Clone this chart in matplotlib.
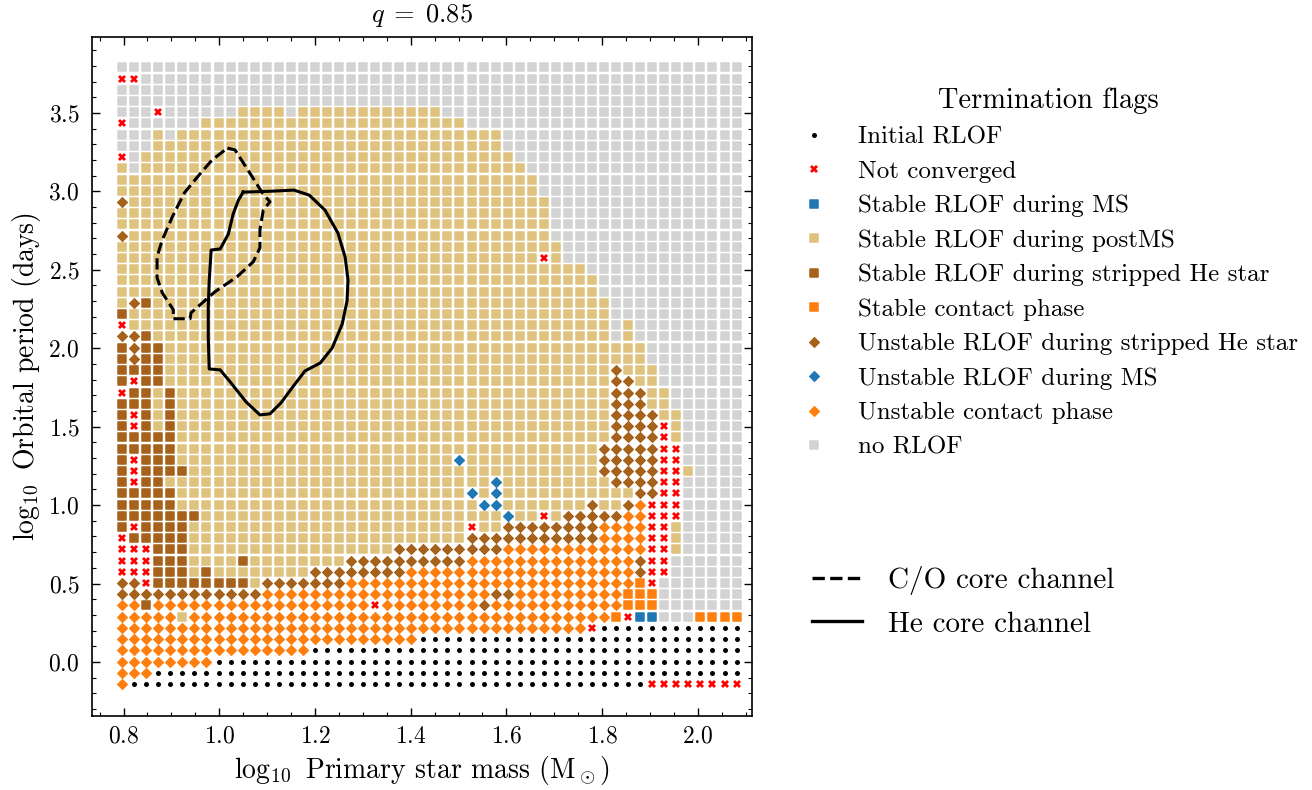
import numpy as np
import matplotlib
matplotlib.use('Agg')
import matplotlib.pyplot as plt
from matplotlib.markers import MarkerStyle
from matplotlib.lines import Line2D
from matplotlib.ticker import MultipleLocator

plt.rcParams['font.family'] = 'serif'
plt.rcParams['font.serif'] = ['cmr10']
plt.rcParams['mathtext.fontset'] = 'cm'
plt.rcParams['axes.formatter.use_mathtext'] = True

# grid of the binary models (log10 M1 columns, log10 P rows from top)
log_mass = np.round(np.linspace(0.797, 2.081, 52), 4)
log_period = np.round(np.linspace(3.79, -0.14, 56), 4)

# termination flag per cell, run-length coded, one string per period row (top first)
# g no RLOF, t stable postMS, h stable stripped He, H unstable stripped He,
# b stable MS, B unstable MS, o stable contact, O unstable contact,
# x not converged, . initial RLOF
flag_rows = [
    "52g", "2x 50g", "52g", "52g",
    "3g 1x 6g 4t 1g 12t 25g",
    "1x 6g 22t 23g",
    "3g 1t 1g 27t 20g",
    "3g 29t 20g",
    "1x 1g 31t 19g",
    "1t 1g 32t 18g",
    "35t 17g", "35t 17g",
    "1H 35t 16g",
    "36t 16g", "36t 16g",
    "1H 35t 16g",
    "37t 15g",
    "35t 1x 1t 15g",
    "39t 13g",
    "40t 12g", "40t 12g",
    "1t 1H 1h 38t 11g",
    "1h 40t 11g",
    "1x 40t 1g 1t 9g",
    "2H 1h 38t 1g 1t 9g",
    "1h 1H 2h 40t 8g",
    "1h 1H 2h 40t 8g",
    "4h 37t 1H 3t 7g",
    "1h 1x 2h 37t 2H 2t 7g",
    "1x 2h 1t 1h 36t 3H 2t 6g",
    "3h 1t 1h 36t 3H 2t 6g",
    "1h 1x 1h 1t 1h 36t 4H 2t 5g",
    "1h 1x 1h 1t 1h 36t 4H 1x 1t 5g",
    "5h 36t 4H 1x 1t 5g",
    "5h 35t 5H 2x 5g",
    "1h 1x 3h 23t 1B 11t 5H 2x 5g",
    "1h 1x 4h 34t 5H 2x 1t 4g",
    "1h 1x 2h 27t 1B 9t 4H 2x 5g",
    "5h 24t 1B 1t 1B 11t 2H 2x 5g",
    "5h 25t 2B 7t 1H 2t 1H 1O 3x 5g",
    "7h 25t 1B 2t 1x 1t 5H 2O 3x 5g",
    "1h 1x 4h 23t 1x 2t 8H 4O 2x 1t 5g",
    "1x 5h 23t 11H 4O 2x 1t 5g",
    "3x 3h 17t 9H 12O 2x 1t 5g",
    "3x 3h 4t 1h 8t 10H 14O 1H 2x 6g",
    "3x 3h 1t 1h 8t 8H 19O 1H 2x 6g",
    "2H 1x 8h 1t 7H 24O 1o 1x 7g",
    "12H 19O 2H 9O 3o 7g",
    "2O 1h 18O 1x 8O 1H 11O 3o 7g",
    "5O 1t 35O 1o 1x 2b 3g 4o",
    "39O 1x 12.",
    "25O 27.",
    "16O 36.",
    "8O 44.",
    "3O 49.",
    "1O 43. 8x",
]

# C/O core channel contour (log10 M1, log10 P)
co_mass = [1.017, 1.033, 1.069, 1.090, 1.106, 1.092, 1.085, 1.085, 1.071, 1.037,
           0.991, 0.941, 0.939, 0.904, 0.904, 0.881, 0.870, 0.870, 0.881, 0.902,
           0.927, 0.958, 0.985, 1.017]
co_period = [3.276, 3.264, 3.092, 2.990, 2.933, 2.882, 2.755, 2.640, 2.551, 2.455,
             2.360, 2.226, 2.188, 2.188, 2.245, 2.353, 2.449, 2.583, 2.691, 2.838,
             2.990, 3.105, 3.200, 3.276]

# He core channel contour
he_mass = [1.050, 1.110, 1.156, 1.188, 1.221, 1.248, 1.263, 1.269, 1.267, 1.257,
           1.236, 1.211, 1.179, 1.152, 1.129, 1.106, 1.085, 1.056, 1.021, 1.002,
           0.979, 0.977, 0.977, 0.979, 0.983, 1.002, 1.019, 1.029, 1.040, 1.050]
he_period = [2.995, 3.001, 3.008, 2.976, 2.880, 2.734, 2.581, 2.435, 2.301, 2.155,
             2.002, 1.906, 1.855, 1.747, 1.652, 1.582, 1.575, 1.658, 1.792, 1.862,
             1.868, 2.072, 2.263, 2.429, 2.626, 2.633, 2.728, 2.855, 2.944, 2.995]

flag_labels = ['Initial RLOF', 'Not converged', 'Stable RLOF during MS',
               'Stable RLOF during postMS', 'Stable RLOF during stripped He star',
               'Stable contact phase', 'Unstable RLOF during stripped He star',
               'Unstable RLOF during MS', 'Unstable contact phase', 'no RLOF']
flag_codes = ['.', 'x', 'b', 't', 'h', 'o', 'H', 'B', 'O', 'g']

sq = MarkerStyle('s', joinstyle='round')
dm = MarkerStyle('D', joinstyle='round')
styles = {
    '.': dict(marker='o', color='black', ms=3.6, mew=0),
    'x': dict(marker='X', color='red', ms=5.4, mew=0),
    'b': dict(marker=sq, color='#1f77b4', ms=5.9, mew=1.1),
    't': dict(marker=sq, color='#dfc27d', ms=5.9, mew=1.1),
    'h': dict(marker=sq, color='#a6611a', ms=5.9, mew=1.1),
    'o': dict(marker=sq, color='#ff7f0e', ms=5.9, mew=1.1),
    'H': dict(marker=dm, color='#a6611a', ms=5.0, mew=0.8),
    'B': dict(marker=dm, color='#1f77b4', ms=5.0, mew=0.8),
    'O': dict(marker=dm, color='#ff7f0e', ms=5.0, mew=0.8),
    'g': dict(marker=sq, color='#d3d3d3', ms=5.9, mew=1.1),
}


def decode(row):
    out = []
    for tok in row.split():
        out += [tok[-1]] * int(tok[:-1])
    return out


flags = np.array([decode(r) for r in flag_rows])
mm, pp = np.meshgrid(log_mass, log_period)

fig = plt.figure(figsize=(13.12, 7.9), dpi=100)
ax = fig.add_axes([0.0701, 0.0935, 0.5030, 0.8595])

for code in flag_codes:
    sel = flags == code
    st = styles[code]
    ax.plot(mm[sel], pp[sel], linestyle='none', marker=st['marker'], ms=st['ms'],
            mfc=st['color'], mec=st['color'], mew=st['mew'], zorder=2)

ax.plot(co_mass, co_period, color='black', lw=2.2, ls='--', zorder=3)
ax.plot(he_mass, he_period, color='black', lw=2.2, ls='-', zorder=3)

ax.set_xlim(0.734, 2.113)
ax.set_ylim(-0.345, 3.983)
ax.xaxis.set_major_locator(MultipleLocator(0.2))
ax.xaxis.set_minor_locator(MultipleLocator(0.05))
ax.yaxis.set_major_locator(MultipleLocator(0.5))
ax.yaxis.set_minor_locator(MultipleLocator(0.1))
ax.tick_params(which='both', direction='in', top=True, right=True, labelsize=17)
ax.tick_params(which='major', length=6, width=1.0)
ax.tick_params(which='minor', length=3, width=0.8)
ax.tick_params(axis='y', which='major', pad=9)
ax.tick_params(axis='x', which='major', pad=7)
for sp in ax.spines.values():
    sp.set_linewidth(1.2)

ax.set_xlabel(r'$\log_{10}$ Primary star mass ($\mathrm{M}_\odot$)', fontsize=20)
ax.set_ylabel(r'$\log_{10}$ Orbital period (days)', fontsize=20)
ax.set_title(r'$q \;=\; 0.85$', fontsize=19, pad=11)

handles = []
for code, lab in zip(flag_codes, flag_labels):
    st = styles[code]
    handles.append(Line2D([], [], linestyle='none', marker=st['marker'], ms=st['ms'],
                          mfc=st['color'], mec=st['color'], mew=st['mew'], label=lab))
fig.legend(handles=handles, loc='upper left', bbox_to_anchor=(0.592, 0.918),
           frameon=False, fontsize=18, title='Termination flags',
           title_fontsize=20.5, handlelength=1.2, handletextpad=1.16,
           labelspacing=0.48)

line_handles = [Line2D([], [], color='black', lw=2.4, ls='--', label='C/O core channel'),
                Line2D([], [], color='black', lw=2.4, ls='-', label='He core channel')]
fig.legend(handles=line_handles, loc='upper left', bbox_to_anchor=(0.599, 0.317),
           frameon=False, fontsize=21, handlelength=1.71, handletextpad=0.89,
           labelspacing=0.56)

fig.savefig('out.png', dpi=100)
